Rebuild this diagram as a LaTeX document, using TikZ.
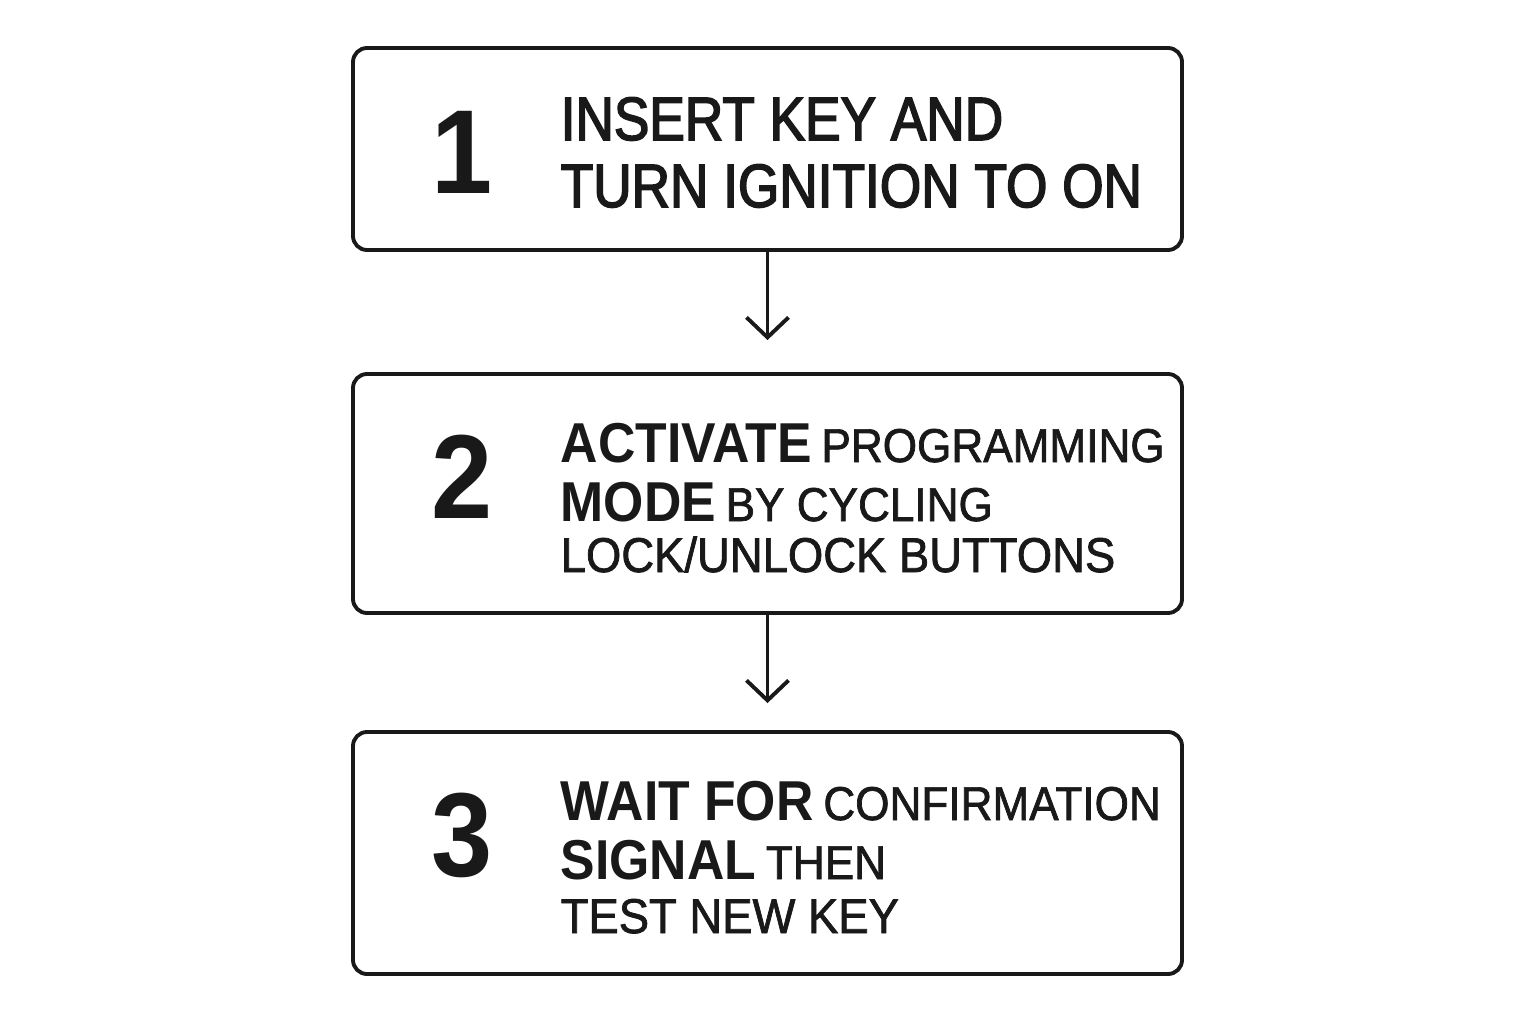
\documentclass[tikz,border=0pt]{standalone}
\usepackage{fontspec}
\setmainfont{Liberation Sans}
\newfontfamily\stepfont[FakeStretch=0.87,FakeBold=2.5]{Liberation Sans}
\newfontfamily\stepsmallfont[FakeStretch=0.93,FakeBold=1.5]{Liberation Sans}
\newfontfamily\stepbigfont[FakeStretch=0.92]{Liberation Sans}
\usepackage{tikz}
\usetikzlibrary{positioning}
\usetikzlibrary{arrows.meta}
\def\boxwd{8.29}
\def\midx{7.675}
\def\textx{5.60}
\def\numx{4.62}
\newcommand\stepbig[1]{{\stepbigfont\bfseries\fontsize{16}{18}\selectfont #1}}
\newcommand\stepsmall[1]{{\stepsmallfont\fontsize{13.5}{16}\selectfont #1}}
\tikzset{
  stepbox/.style={draw=black!90, line width=1.1pt, rounded corners=0.14cm,
    minimum width=\boxwd cm, inner sep=0pt},
  stepnum/.style={font=\stepbigfont\bfseries\fontsize{34}{34}\selectfont, text=black!90},
  stepline/.style={anchor=base west, inner sep=0pt, text=black!90},
  steparrow/.style={draw=black!90, line width=1.1pt,
    -{Straight Barb[length=2mm,width=4.2mm]}}
}

\begin{document}
\begin{tikzpicture}
\useasboundingbox (0,0) rectangle (15.36,10.24);

% the three steps
\node[stepbox, minimum height=2.02cm] (box1) at (\midx, 8.75) {};
\node[stepbox, minimum height=2.39cm] (box2) at (\midx, 5.305) {};
\node[stepbox, minimum height=2.42cm] (box3) at (\midx, 1.71) {};

\node[stepnum] (num1) at (\numx, 8.715) {1};
\node[stepnum] (num2) at (\numx, 5.47) {2};
\node[stepnum] (num3) at (\numx, 1.885) {3};

% step 1
\node[stepline, font=\stepfont\fontsize{17.4}{20}\selectfont] (l11) at (\textx, 8.84) {INSERT KEY AND};
\node[stepline, font=\stepfont\fontsize{17.4}{20}\selectfont] (l12) at (\textx, 8.17) {TURN IGNITION TO ON};

% step 2
\node[stepline] (l21) at (\textx, 5.62) {\stepbig{ACTIVATE} \stepsmall{PROGRAMMING}};
\node[stepline] (l22) at (\textx, 5.03) {\stepbig{MODE} \stepsmall{BY CYCLING}};
\node[stepline] (l23) at (\textx, 4.52) {{\stepsmallfont\fontsize{13.9}{16}\selectfont LOCK/UNLOCK BUTTONS}};

% step 3
\node[stepline] (l31) at (\textx, 2.04) {\stepbig{WAIT FOR} \stepsmall{CONFIRMATION}};
\node[stepline] (l32) at (\textx, 1.45) {\stepbig{SIGNAL} \stepsmall{THEN}};
\node[stepline] (l33) at (\textx, 0.91) {{\stepsmallfont\fontsize{13.9}{16}\selectfont TEST NEW KEY}};

% arrows
\coordinate[above=0.32cm of box2.north] (tip1);
\coordinate[above=0.27cm of box3.north] (tip2);
\draw[steparrow] (box1.south) -- (tip1);
\draw[steparrow] (box2.south) -- (tip2);
\end{tikzpicture}
\end{document}
